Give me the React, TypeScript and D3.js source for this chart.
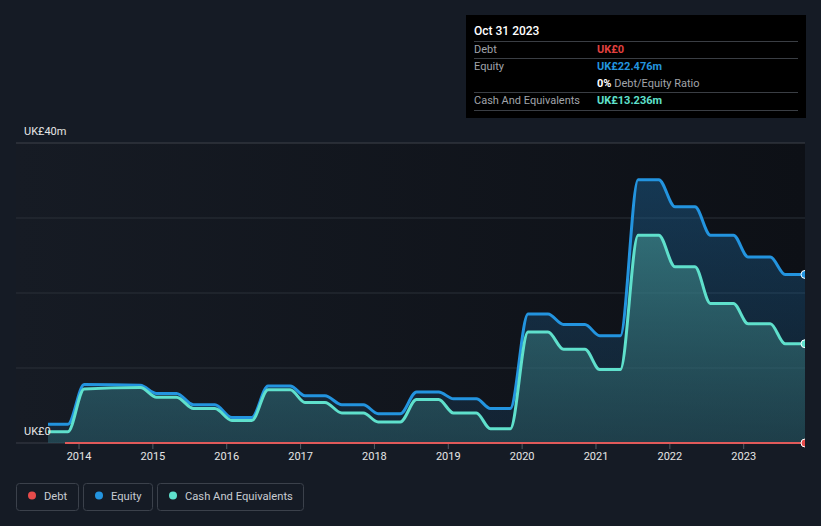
import React from 'react';
import * as d3 from 'd3';

// report periods as decimal years, values in UK£ millions
const periods = [
  2013.58, 2013.85, 2014.07, 2014.83, 2015.05, 2015.32, 2015.55, 2015.84, 2016.07, 2016.34,
  2016.56, 2016.86, 2017.06, 2017.33, 2017.56, 2017.85, 2018.05, 2018.35, 2018.57, 2018.87,
  2019.07, 2019.38, 2019.57, 2019.84, 2020.08, 2020.35, 2020.56, 2020.85, 2021.05, 2021.33,
  2021.57, 2021.85, 2022.07, 2022.34, 2022.55, 2022.86, 2023.06, 2023.36, 2023.56, 2023.83,
];
const equity = [
  2.5, 2.5, 7.8, 7.7, 6.6, 6.6, 5.1, 5.1, 3.4, 3.4,
  7.6, 7.6, 6.3, 6.3, 5.1, 5.1, 3.9, 3.9, 6.8, 6.8,
  5.9, 5.9, 4.6, 4.6, 17.2, 17.2, 15.8, 15.8, 14.3, 14.3,
  35.1, 35.1, 31.5, 31.5, 27.7, 27.7, 24.8, 24.8, 22.476, 22.476,
];
const cash = [
  1.5, 1.5, 7.2, 7.4, 6.1, 6.1, 4.6, 4.6, 3.0, 3.0,
  7.1, 7.1, 5.4, 5.4, 4.0, 4.0, 2.8, 2.8, 5.8, 5.8,
  4.0, 4.0, 1.9, 1.9, 14.8, 14.8, 12.5, 12.5, 9.8, 9.8,
  27.7, 27.7, 23.5, 23.5, 18.6, 18.6, 15.9, 15.9, 13.236, 13.236,
];
const debtPeriods = [2013.81, 2023.83];
const debt = [0, 0];

const yearTicks = [2014, 2015, 2016, 2017, 2018, 2019, 2020, 2021, 2022, 2023];
const gridValues = [0, 10, 20, 30, 40];

const legendItems = [
  { label: 'Debt', color: '#e64b4b', w: 62 },
  { label: 'Equity', color: '#2394df', w: 69 },
  { label: 'Cash And Equivalents', color: '#5fe0cc', w: 146 },
];

const W = 821;
const H = 526;
const FONT = 'Roboto, "Open Sans", sans-serif';

type Pt = { t: number; v: number };

export default function App() {
  const x = d3.scaleLinear().domain([2013.58, 2023.83]).range([48, 805]);
  const y = d3.scaleLinear().domain([0, 40]).range([443, 143]);

  const eqData: Pt[] = periods.map((t, i) => ({ t, v: equity[i] }));
  const cashData: Pt[] = periods.map((t, i) => ({ t, v: cash[i] }));
  const debtData: Pt[] = debtPeriods.map((t, i) => ({ t, v: debt[i] }));

  const line = d3.line<Pt>().x(d => x(d.t)).y(d => y(d.v)).curve(d3.curveMonotoneX);
  const area = d3.area<Pt>().x(d => x(d.t)).y0(y(0)).y1(d => y(d.v)).curve(d3.curveMonotoneX);

  const last = periods.length - 1;

  // legend boxes laid out left to right
  let lx = 16;
  const legend = legendItems.map(item => {
    const pos = lx;
    lx += item.w + 5;
    return { ...item, pos };
  });

  return (
    <div style={{ position: 'fixed', left: 0, top: 0, width: W, height: H }}>
      <svg width={W} height={H} style={{ display: 'block', fontFamily: FONT }}>
        <defs>
          <linearGradient id="plotBg" x1="0" x2="1" y1="0" y2="0">
            <stop offset="0%" stopColor="#161b24" />
            <stop offset="100%" stopColor="#0d1016" />
          </linearGradient>
          <linearGradient id="eqFill" gradientUnits="userSpaceOnUse" x1="0" x2="0" y1={y(40)} y2={y(0)}>
            <stop offset="0%" stopColor="#1e6fa8" stopOpacity={0.45} />
            <stop offset="100%" stopColor="#1a4d75" stopOpacity={0.25} />
          </linearGradient>
          <linearGradient id="cashFill" gradientUnits="userSpaceOnUse" x1="0" x2="0" y1={y(40)} y2={y(0)}>
            <stop offset="0%" stopColor="#4aa3a0" stopOpacity={0.7} />
            <stop offset="100%" stopColor="#2b5c64" stopOpacity={0.5} />
          </linearGradient>
          <clipPath id="plotClip">
            <rect x={16} y={100} width={805 - 16} height={360} />
          </clipPath>
        </defs>

        <rect x={0} y={0} width={W} height={H} fill="#151b25" />
        <rect x={16} y={143} width={805 - 16} height={300} fill="url(#plotBg)" />

        {gridValues.map(v => (
          <line key={v} x1={16} x2={805} y1={y(v)} y2={y(v)}
            stroke={v === 0 ? '#3a3f48' : v === 40 ? '#3e434b' : '#2a3039'} strokeWidth={1} />
        ))}

        <text x={24} y={y(40) - 8} fill="#e6e6e6" fontSize={11}>UK£40m</text>

        <g clipPath="url(#plotClip)">
          <path d={area(eqData) ?? ''} fill="url(#eqFill)" />
          <path d={area(cashData) ?? ''} fill="url(#cashFill)" />
          <path d={line(eqData) ?? ''} fill="none" stroke="#2394df" strokeWidth={3} />
          <path d={line(cashData) ?? ''} fill="none" stroke="#5fe0cc" strokeWidth={3} />
          <path d={line(debtData) ?? ''} fill="none" stroke="#e05a5a" strokeWidth={2} />
          <circle cx={x(periods[last])} cy={y(equity[last])} r={4} fill="#2394df" stroke="#fff" strokeWidth={1} />
          <circle cx={x(periods[last])} cy={y(cash[last])} r={4} fill="#5fe0cc" stroke="#fff" strokeWidth={1} />
          <circle cx={x(debtPeriods[1])} cy={y(0)} r={4} fill="#e64b4b" stroke="#fff" strokeWidth={1} />
        </g>

        <text x={24} y={y(0) - 8} fill="#e6e6e6" fontSize={11}>UK£0</text>

        {yearTicks.map(t => (
          <g key={t} transform={`translate(${x(t)},0)`}>
            <line y1={y(0) + 1} y2={y(0) + 6} stroke="#555b64" />
            <text y={460} textAnchor="middle" fill="#e6e6e6" fontSize={11}>{t}</text>
          </g>
        ))}

        {legend.map(item => (
          <g key={item.label} transform={`translate(${item.pos},483)`}>
            <rect x={0.5} y={0.5} width={item.w} height={27} rx={3} fill="none" stroke="#3b414b" />
            <circle cx={16} cy={12.5} r={4} fill={item.color} />
            <text x={28} y={16.5} fill="#c8ccd2" fontSize={11.2}>{item.label}</text>
          </g>
        ))}

        {/* tooltip */}
        <g>
          <rect x={466} y={15} width={340} height={103} fill="#000" />
          <text x={474} y={35} fill="#fff" fontSize={12} fontWeight={500}>Oct 31 2023</text>
          {[41, 58, 92, 110].map(ly => (
            <line key={ly} x1={474} x2={798} y1={ly + 0.5} y2={ly + 0.5} stroke="#3a3e44" />
          ))}
          <text x={474} y={53} fill="#a0a4aa" fontSize={11}>Debt</text>
          <text x={597} y={53} fill="#e0403f" fontSize={11} fontWeight={700}>UK£0</text>
          <text x={474} y={70} fill="#a0a4aa" fontSize={11}>Equity</text>
          <text x={597} y={70} fill="#2394df" fontSize={11} fontWeight={700}>UK£22.476m</text>
          <text x={597} y={87} fontSize={11}>
            <tspan fill="#fff" fontWeight={700}>0%</tspan>
            <tspan fill="#a0a4aa"> Debt/Equity Ratio</tspan>
          </text>
          <text x={474} y={104} fill="#a0a4aa" fontSize={11}>Cash And Equivalents</text>
          <text x={597} y={104} fill="#5fe0cc" fontSize={11} fontWeight={700}>UK£13.236m</text>
        </g>
      </svg>
    </div>
  );
}
